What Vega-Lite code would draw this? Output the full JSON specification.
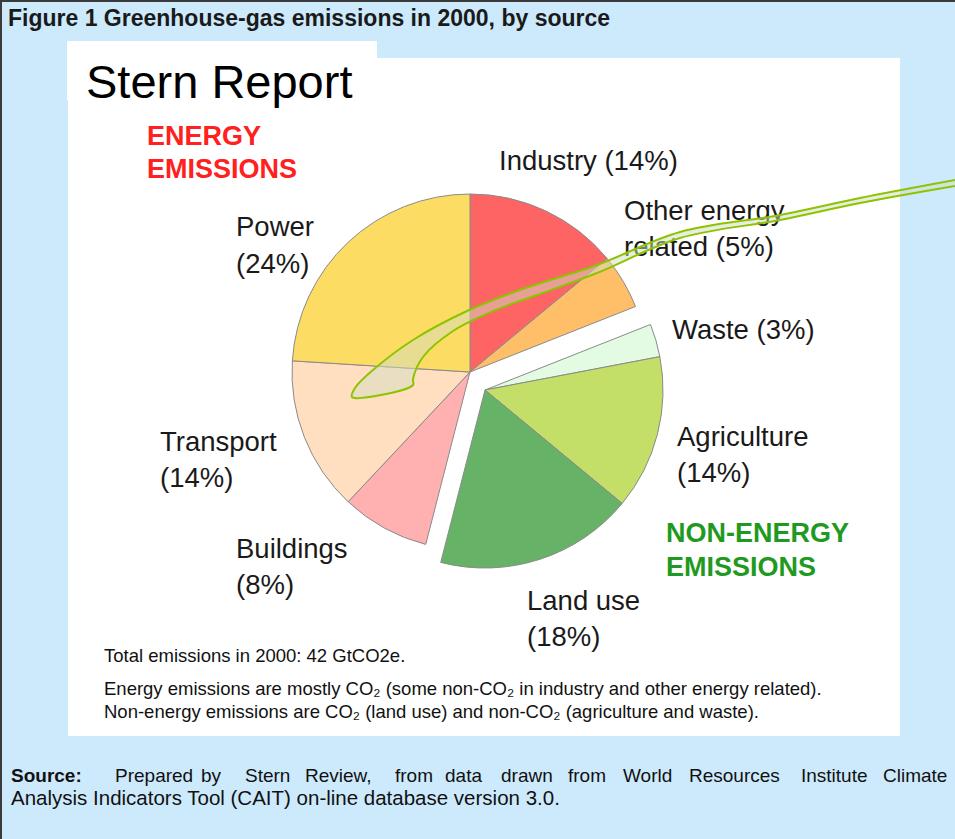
{
  "$schema": "https://vega.github.io/schema/vega-lite/v6.json",
  "width": 955,
  "height": 839,
  "padding": 0,
  "autosize": {"type": "none"},
  "background": "#cdeafd",
  "config": {"view": {"stroke": null}, "text": {"font": "Liberation Sans, Arial, sans-serif"}},
  "datasets": {
    "sources": [
      {"order": 1, "source": "Industry", "pct": 14, "group": "energy"},
      {"order": 2, "source": "Other energy related", "pct": 5, "group": "energy"},
      {"order": 3, "source": "Waste", "pct": 3, "group": "non-energy"},
      {"order": 4, "source": "Agriculture", "pct": 14, "group": "non-energy"},
      {"order": 5, "source": "Land use", "pct": 18, "group": "non-energy"},
      {"order": 6, "source": "Buildings", "pct": 8, "group": "energy"},
      {"order": 7, "source": "Transport", "pct": 14, "group": "energy"},
      {"order": 8, "source": "Power", "pct": 24, "group": "energy"}
    ],
    "callout": [
      {"i": 1, "x": 955, "y": 180}, {"i": 2, "x": 860, "y": 198}, {"i": 3, "x": 780, "y": 215},
      {"i": 4, "x": 680, "y": 232}, {"i": 5, "x": 597, "y": 265}, {"i": 6, "x": 520, "y": 290},
      {"i": 7, "x": 467, "y": 311}, {"i": 8, "x": 413, "y": 340}, {"i": 9, "x": 373, "y": 370},
      {"i": 10, "x": 355, "y": 388}, {"i": 11, "x": 352, "y": 397}, {"i": 12, "x": 413, "y": 385},
      {"i": 13, "x": 413, "y": 379}, {"i": 14, "x": 423, "y": 357}, {"i": 15, "x": 453, "y": 331},
      {"i": 16, "x": 493, "y": 311}, {"i": 17, "x": 540, "y": 294}, {"i": 18, "x": 597, "y": 273},
      {"i": 19, "x": 680, "y": 238}, {"i": 20, "x": 780, "y": 220}, {"i": 21, "x": 860, "y": 203},
      {"i": 22, "x": 955, "y": 186}
    ],
    "one": [{"k": 1}]
  },
  "layer": [
    {
      "data": {"name": "one"},
      "mark": {"type": "rect", "fill": "white"},
      "encoding": {
        "x": {"datum": 68, "type": "quantitative", "scale": {"domain": [0, 955], "nice": false, "zero": false}, "axis": null},
        "x2": {"datum": 900},
        "y": {"datum": 58, "type": "quantitative", "scale": {"domain": [0, 839], "nice": false, "zero": false, "reverse": true}, "axis": null},
        "y2": {"datum": 736}
      }
    },
    {
      "data": {"name": "one"},
      "mark": {"type": "rect", "fill": "white"},
      "encoding": {
        "x": {"datum": 67, "type": "quantitative"},
        "x2": {"datum": 377},
        "y": {"datum": 41, "type": "quantitative"},
        "y2": {"datum": 100}
      }
    },
    {
      "data": {"name": "one"},
      "mark": {"type": "rule", "stroke": "#3a3a3a", "strokeWidth": 2},
      "encoding": {"x": {"datum": 0, "type": "quantitative"}, "x2": {"datum": 955}, "y": {"datum": 1, "type": "quantitative"}}
    },
    {
      "data": {"name": "one"},
      "mark": {"type": "rule", "stroke": "#3a3a3a", "strokeWidth": 2},
      "encoding": {"x": {"datum": 1, "type": "quantitative"}, "y": {"datum": 0, "type": "quantitative"}, "y2": {"datum": 839}}
    },
    {
      "data": {"name": "sources"},
      "transform": [
        {"stack": "pct", "groupby": [], "sort": [{"field": "order"}], "as": ["t0", "t1"]},
        {"filter": "datum.group === 'energy'"}
      ],
      "mark": {"type": "arc", "outerRadius": 178, "stroke": "#8a8a8a", "strokeWidth": 1},
      "encoding": {
        "theta": {"field": "t0", "type": "quantitative", "scale": {"domain": [0, 100]}},
        "theta2": {"field": "t1"},
        "color": {
          "field": "source", "type": "nominal", "legend": null,
          "scale": {
            "domain": ["Industry", "Other energy related", "Waste", "Agriculture", "Land use", "Buildings", "Transport", "Power"],
            "range": ["#ff6464", "#ffbf69", "#e2fbe2", "#c3df68", "#66b266", "#ffb0b0", "#ffdfc0", "#fddc63"]
          }
        },
        "x": {"datum": 470, "type": "quantitative"},
        "y": {"datum": 372, "type": "quantitative"}
      }
    },
    {
      "data": {"name": "sources"},
      "transform": [
        {"stack": "pct", "groupby": [], "sort": [{"field": "order"}], "as": ["t0", "t1"]},
        {"filter": "datum.group === 'non-energy'"}
      ],
      "mark": {"type": "arc", "outerRadius": 178, "stroke": "#8a8a8a", "strokeWidth": 1},
      "encoding": {
        "theta": {"field": "t0", "type": "quantitative", "scale": {"domain": [0, 100]}},
        "theta2": {"field": "t1"},
        "color": {"field": "source", "type": "nominal", "legend": null},
        "x": {"datum": 485, "type": "quantitative"},
        "y": {"datum": 390, "type": "quantitative"}
      }
    },
    {
      "data": {"name": "one"},
      "mark": {"type": "text", "align": "left", "baseline": "alphabetic", "fontSize": 23, "fontWeight": "bold", "fill": "#1a1a1a"},
      "encoding": {"x": {"datum": 8, "type": "quantitative"}, "y": {"datum": 26, "type": "quantitative"}, "text": {"value": "Figure 1 Greenhouse-gas emissions in 2000, by source"}}
    },
    {
      "data": {"name": "one"},
      "mark": {"type": "text", "align": "left", "baseline": "alphabetic", "fontSize": 47, "fill": "#000000"},
      "encoding": {"x": {"datum": 86, "type": "quantitative"}, "y": {"datum": 98, "type": "quantitative"}, "text": {"value": "Stern Report"}}
    },
    {
      "data": {"name": "one"},
      "mark": {"type": "text", "align": "left", "baseline": "alphabetic", "fontSize": 27, "fontWeight": "bold", "fill": "#ff2020", "lineHeight": 33},
      "encoding": {"x": {"datum": 147, "type": "quantitative"}, "y": {"datum": 145, "type": "quantitative"}, "text": {"value": ["ENERGY", "EMISSIONS"]}}
    },
    {
      "data": {"name": "one"},
      "mark": {"type": "text", "align": "left", "baseline": "alphabetic", "fontSize": 27, "fontWeight": "bold", "fill": "#1f9a1f", "lineHeight": 34},
      "encoding": {"x": {"datum": 666, "type": "quantitative"}, "y": {"datum": 542, "type": "quantitative"}, "text": {"value": ["NON-ENERGY", "EMISSIONS"]}}
    },
    {
      "data": {"name": "one"},
      "mark": {"type": "text", "align": "left", "baseline": "alphabetic", "fontSize": 27.5, "fill": "#1a1a1a", "lineHeight": 36},
      "encoding": {"x": {"datum": 499, "type": "quantitative"}, "y": {"datum": 170, "type": "quantitative"}, "text": {"value": "Industry (14%)"}}
    },
    {
      "data": {"name": "one"},
      "mark": {"type": "text", "align": "left", "baseline": "alphabetic", "fontSize": 27.5, "fill": "#1a1a1a", "lineHeight": 36},
      "encoding": {"x": {"datum": 624, "type": "quantitative"}, "y": {"datum": 220, "type": "quantitative"}, "text": {"value": ["Other energy", "related (5%)"]}}
    },
    {
      "data": {"name": "one"},
      "mark": {"type": "text", "align": "left", "baseline": "alphabetic", "fontSize": 27.5, "fill": "#1a1a1a", "lineHeight": 36},
      "encoding": {"x": {"datum": 672, "type": "quantitative"}, "y": {"datum": 339, "type": "quantitative"}, "text": {"value": "Waste (3%)"}}
    },
    {
      "data": {"name": "one"},
      "mark": {"type": "text", "align": "left", "baseline": "alphabetic", "fontSize": 27.5, "fill": "#1a1a1a", "lineHeight": 36},
      "encoding": {"x": {"datum": 677, "type": "quantitative"}, "y": {"datum": 446, "type": "quantitative"}, "text": {"value": ["Agriculture", "(14%)"]}}
    },
    {
      "data": {"name": "one"},
      "mark": {"type": "text", "align": "left", "baseline": "alphabetic", "fontSize": 27.5, "fill": "#1a1a1a", "lineHeight": 36},
      "encoding": {"x": {"datum": 527, "type": "quantitative"}, "y": {"datum": 610, "type": "quantitative"}, "text": {"value": ["Land use", "(18%)"]}}
    },
    {
      "data": {"name": "one"},
      "mark": {"type": "text", "align": "left", "baseline": "alphabetic", "fontSize": 27.5, "fill": "#1a1a1a", "lineHeight": 36},
      "encoding": {"x": {"datum": 236, "type": "quantitative"}, "y": {"datum": 558, "type": "quantitative"}, "text": {"value": ["Buildings", "(8%)"]}}
    },
    {
      "data": {"name": "one"},
      "mark": {"type": "text", "align": "left", "baseline": "alphabetic", "fontSize": 27.5, "fill": "#1a1a1a", "lineHeight": 36},
      "encoding": {"x": {"datum": 160, "type": "quantitative"}, "y": {"datum": 451, "type": "quantitative"}, "text": {"value": ["Transport", "(14%)"]}}
    },
    {
      "data": {"name": "one"},
      "mark": {"type": "text", "align": "left", "baseline": "alphabetic", "fontSize": 27.5, "fill": "#1a1a1a", "lineHeight": 37},
      "encoding": {"x": {"datum": 236, "type": "quantitative"}, "y": {"datum": 236, "type": "quantitative"}, "text": {"value": ["Power", "(24%)"]}}
    },
    {
      "data": {"name": "one"},
      "mark": {"type": "text", "align": "left", "baseline": "alphabetic", "fontSize": 18.5, "fill": "#111111"},
      "encoding": {"x": {"datum": 104, "type": "quantitative"}, "y": {"datum": 662, "type": "quantitative"}, "text": {"value": "Total emissions in 2000: 42 GtCO2e."}}
    },
    {
      "data": {"name": "one"},
      "mark": {"type": "text", "align": "left", "baseline": "alphabetic", "fontSize": 18.5, "fill": "#111111", "lineHeight": 23},
      "encoding": {"x": {"datum": 104, "type": "quantitative"}, "y": {"datum": 695, "type": "quantitative"}, "text": {"value": ["Energy emissions are mostly CO₂ (some non-CO₂ in industry and other energy related).", "Non-energy emissions are CO₂ (land use) and non-CO₂ (agriculture and waste)."]}}
    },
    {
      "data": {"name": "one"},
      "mark": {"type": "text", "align": "left", "baseline": "alphabetic", "fontSize": 19, "fontWeight": "bold", "fill": "#111111"},
      "encoding": {"x": {"datum": 11, "type": "quantitative"}, "y": {"datum": 782, "type": "quantitative"}, "text": {"value": "Source:"}}
    },
    {"data": {"name": "one"}, "mark": {"type": "text", "align": "left", "baseline": "alphabetic", "fontSize": 19, "fill": "#111111"},
     "encoding": {"x": {"datum": 115, "type": "quantitative"}, "y": {"datum": 782, "type": "quantitative"}, "text": {"value": "Prepared"}}},
    {"data": {"name": "one"}, "mark": {"type": "text", "align": "left", "baseline": "alphabetic", "fontSize": 19, "fill": "#111111"},
     "encoding": {"x": {"datum": 201, "type": "quantitative"}, "y": {"datum": 782, "type": "quantitative"}, "text": {"value": "by"}}},
    {"data": {"name": "one"}, "mark": {"type": "text", "align": "left", "baseline": "alphabetic", "fontSize": 19, "fill": "#111111"},
     "encoding": {"x": {"datum": 245, "type": "quantitative"}, "y": {"datum": 782, "type": "quantitative"}, "text": {"value": "Stern"}}},
    {"data": {"name": "one"}, "mark": {"type": "text", "align": "left", "baseline": "alphabetic", "fontSize": 19, "fill": "#111111"},
     "encoding": {"x": {"datum": 305, "type": "quantitative"}, "y": {"datum": 782, "type": "quantitative"}, "text": {"value": "Review,"}}},
    {"data": {"name": "one"}, "mark": {"type": "text", "align": "left", "baseline": "alphabetic", "fontSize": 19, "fill": "#111111"},
     "encoding": {"x": {"datum": 395, "type": "quantitative"}, "y": {"datum": 782, "type": "quantitative"}, "text": {"value": "from"}}},
    {"data": {"name": "one"}, "mark": {"type": "text", "align": "left", "baseline": "alphabetic", "fontSize": 19, "fill": "#111111"},
     "encoding": {"x": {"datum": 445, "type": "quantitative"}, "y": {"datum": 782, "type": "quantitative"}, "text": {"value": "data"}}},
    {"data": {"name": "one"}, "mark": {"type": "text", "align": "left", "baseline": "alphabetic", "fontSize": 19, "fill": "#111111"},
     "encoding": {"x": {"datum": 501, "type": "quantitative"}, "y": {"datum": 782, "type": "quantitative"}, "text": {"value": "drawn"}}},
    {"data": {"name": "one"}, "mark": {"type": "text", "align": "left", "baseline": "alphabetic", "fontSize": 19, "fill": "#111111"},
     "encoding": {"x": {"datum": 568, "type": "quantitative"}, "y": {"datum": 782, "type": "quantitative"}, "text": {"value": "from"}}},
    {"data": {"name": "one"}, "mark": {"type": "text", "align": "left", "baseline": "alphabetic", "fontSize": 19, "fill": "#111111"},
     "encoding": {"x": {"datum": 623, "type": "quantitative"}, "y": {"datum": 782, "type": "quantitative"}, "text": {"value": "World"}}},
    {"data": {"name": "one"}, "mark": {"type": "text", "align": "left", "baseline": "alphabetic", "fontSize": 19, "fill": "#111111"},
     "encoding": {"x": {"datum": 689, "type": "quantitative"}, "y": {"datum": 782, "type": "quantitative"}, "text": {"value": "Resources"}}},
    {"data": {"name": "one"}, "mark": {"type": "text", "align": "left", "baseline": "alphabetic", "fontSize": 19, "fill": "#111111"},
     "encoding": {"x": {"datum": 801, "type": "quantitative"}, "y": {"datum": 782, "type": "quantitative"}, "text": {"value": "Institute"}}},
    {"data": {"name": "one"}, "mark": {"type": "text", "align": "left", "baseline": "alphabetic", "fontSize": 19, "fill": "#111111"},
     "encoding": {"x": {"datum": 883, "type": "quantitative"}, "y": {"datum": 782, "type": "quantitative"}, "text": {"value": "Climate"}}},
    {
      "data": {"name": "one"},
      "mark": {"type": "text", "align": "left", "baseline": "alphabetic", "fontSize": 20.5, "fill": "#111111"},
      "encoding": {"x": {"datum": 11, "type": "quantitative"}, "y": {"datum": 805, "type": "quantitative"}, "text": {"value": "Analysis Indicators Tool (CAIT) on-line database version 3.0."}}
    },
    {
      "data": {"name": "callout"},
      "mark": {"type": "line", "interpolate": "catmull-rom", "stroke": "#8cc400", "strokeWidth": 2, "fill": "#d4dcc4", "fillOpacity": 0.5, "strokeJoin": "round"},
      "encoding": {
        "x": {"field": "x", "type": "quantitative"},
        "y": {"field": "y", "type": "quantitative"},
        "order": {"field": "i", "type": "quantitative"}
      }
    }
  ]
}
